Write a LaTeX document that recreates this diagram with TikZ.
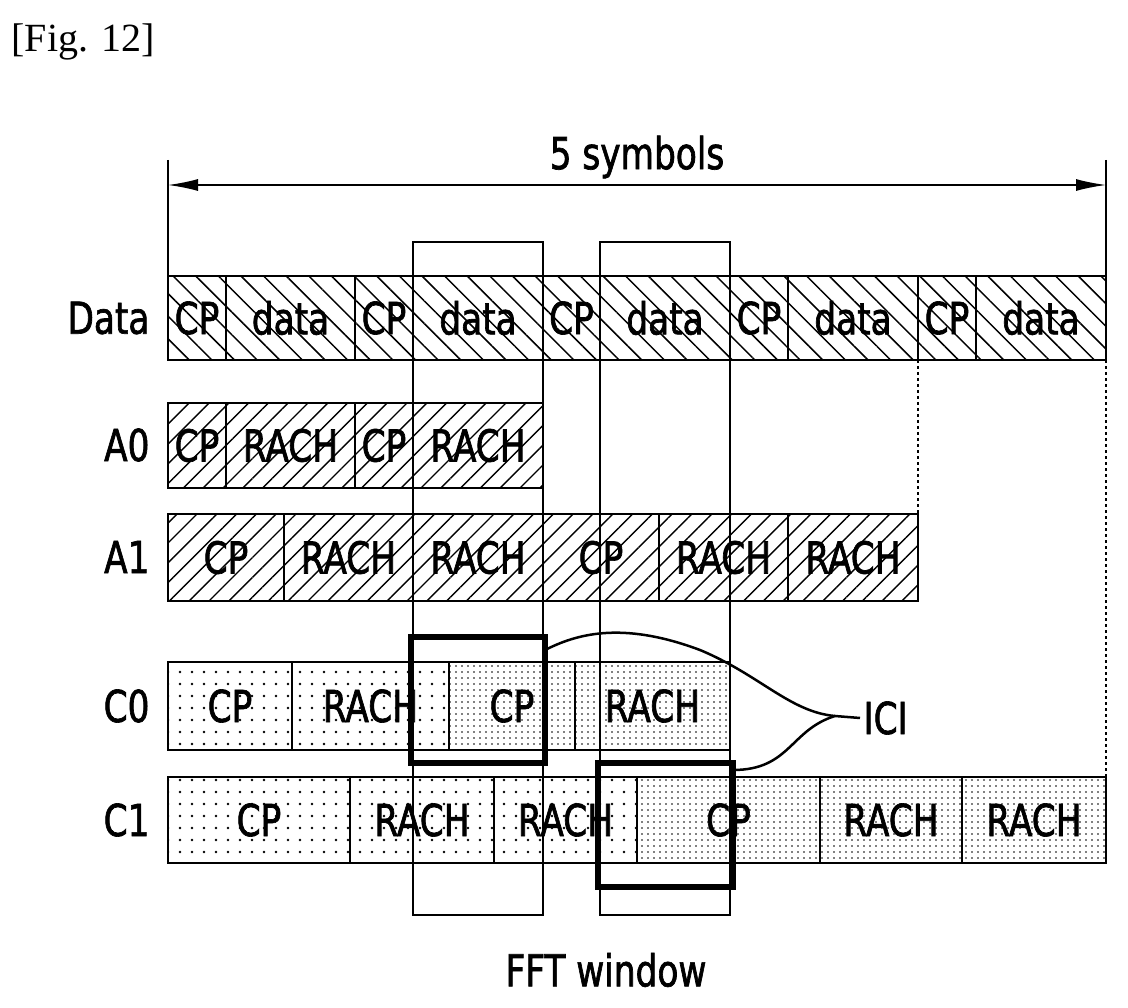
\documentclass[tikz,border=0pt]{standalone}
\usepackage{fontspec}
\setmainfont{DejaVu Sans}
\newfontfamily\serifff{Liberation Serif}
\usetikzlibrary{patterns.meta,arrows.meta}
\begin{document}
\begin{tikzpicture}[x=1pt,y=-1pt,
  lbl/.style={font=\fontsize{44}{44}\selectfont\addfontfeatures{FakeStretch=0.78,FakeBold=1.5}},
  cell/.style={draw,line width=2pt,inner sep=0pt},
  dat/.style={cell,pattern={Lines[angle=-45,distance=16pt,line width=1.5pt]}},
  ach/.style={cell,pattern={Lines[angle=45,distance=14pt,line width=1.4pt]}},
  csp/.style={cell,pattern={Dots[distance=12pt,radius=1.3pt]}},
  cdn/.style={cell,pattern={Dots[distance=6pt,radius=0.9pt]}},
  thick box/.style={draw,line width=6pt},
  win/.style={draw,line width=2pt}]
\useasboundingbox (0,0) rectangle (1128,1008);
\node[font=\serifff\fontsize{40}{40}\selectfont,anchor=west] (title) at (8,42) {[Fig. 12]};
\newcommand\cellrow[5]{%
  \foreach \a/\b/\t [count=\i] in {#5}{
    \path[#1] (\a,#2) rectangle (\b,#3);
    \node[lbl] (#4\i) at ({(\a+\b)/2},{(#2+#3)/2}) {\t};
  }}
\cellrow{dat}{276}{360}{d}{168/226/CP,226/355/data,355/413/CP,413/543/data,543/600/CP,600/730/data,730/788/CP,788/918/data,918/976/CP,976/1106/data}
\cellrow{ach}{403}{488}{a}{168/226/CP,226/355/RACH,355/413/CP,413/543/RACH}
\cellrow{ach}{514}{601}{b}{168/284/CP,284/413/RACH,413/543/RACH,543/659/CP,659/788/RACH,788/918/RACH}
\cellrow{csp}{662}{750}{c}{168/292/CP,292/449/RACH}
\cellrow{cdn}{662}{750}{e}{449/575/CP,575/730/RACH}
\cellrow{csp}{777}{863}{f}{168/350/CP,350/494/RACH,494/637/RACH}
\cellrow{cdn}{777}{863}{g}{637/820/CP,820/962/RACH,962/1106/RACH}
% FFT windows
\draw[win] (413,242) rectangle (543,915);
\draw[win] (600,242) rectangle (730,915);
% row labels
\foreach \t/\y in {Data/318,A0/445,A1/557,C0/706,C1/820}
  \node[lbl,anchor=east] (r\t) at (153,\y) {\t};
% dashed
\draw[dashed,line width=1.5pt] (918,360) -- (918,514);
\draw[dashed,line width=1.5pt] (1106,360) -- (1106,777);
% 5 symbols
\coordinate (t1) at (168,160); \coordinate (t2) at (168,276);
\coordinate (t3) at (1106,160); \coordinate (t4) at (1106,276);
\draw[line width=2pt] (t1) -- (t2) (t3) -- (t4);
\coordinate (s1) at (168,185); \coordinate (s2) at (1106,185);
\draw[line width=1.5pt,{Latex[length=30pt,width=12pt]}-{Latex[length=30pt,width=12pt]}] (s1) -- (s2);
\node[lbl] (sym) at (637,157) {5 symbols};
% thick boxes
\draw[thick box] (411,637) rectangle (545,763);
\draw[thick box] (598,763) rectangle (733,887);
% ICI
\node[lbl,anchor=west] (ici) at (860,718) {ICI};
\coordinate (j) at (835,716);
\draw[line width=2.5pt] (545,650) .. controls (575,635) and (620,620) .. (700,650) .. controls (760,675) and (790,712) .. (j);
\draw[line width=2.5pt] (733,770) .. controls (790,770) and (790,730) .. (j) -- (ici.west);
\node[lbl] (fft) at (606,970) {FFT window};
\end{tikzpicture}
\end{document}
